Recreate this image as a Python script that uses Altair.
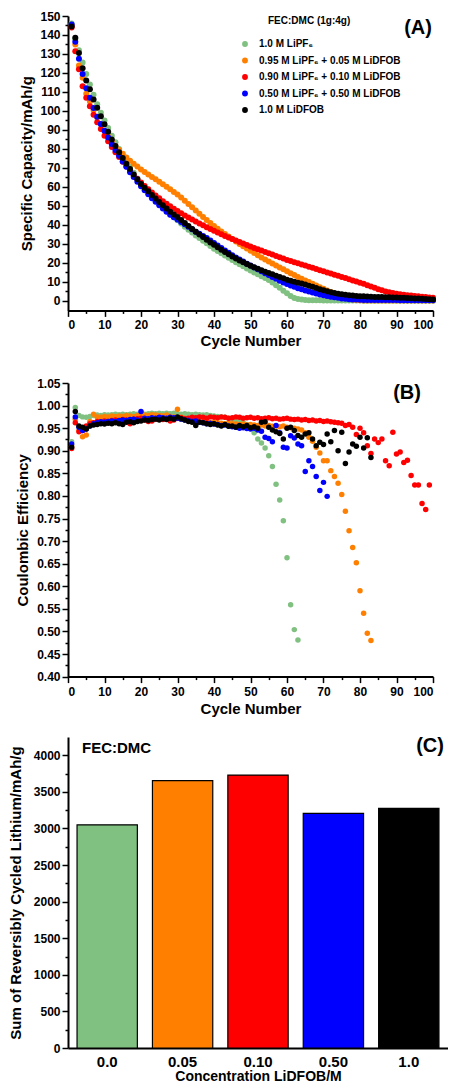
import altair as alt
import pandas as pd

FONT = "Liberation Sans"

series = ["1.0 M LiPF₆", "0.95 M LiPF₆ + 0.05 M LiDFOB", "0.90 M LiPF₆ + 0.10 M LiDFOB",
          "0.50 M LiPF₆ + 0.50 M LiDFOB", "1.0 M LiDFOB"]
colors = ["#80C080", "#FF8000", "#FF0000", "#0000FF", "#000000"]

# ---------------- Panel A: specific capacity (mAh/g) per cycle ----------------
cap_lipf6 = [146, 138, 132, 125.5, 119.5, 114, 108.5, 103.5, 99, 95,
             91, 87, 83.5, 80, 76.5, 73.5, 70.5, 67.5, 64.5, 62,
             59.5, 57, 55, 53, 51, 49, 47.2, 45.5, 44, 42.5,
             40.8, 39.1, 37.5, 36, 34.5, 33.1, 31.7, 30.3, 28.9, 27.5,
             26.3, 25.1, 23.9, 22.7, 21.5, 20.4, 19.3, 18.2, 17.1, 16,
             15, 14, 13, 12, 11, 9.7, 8.3, 6.9, 5.4, 4,
             2.6, 1.5, 1, 0.7, 0.5, 0.4, 0.4, 0.3, 0.3, 0.2,
             0.2, 0.2, 0.2, 0.2, 0.2, 0.2, 0.2, 0.2, 0.2, 0.2,
             0.1, 0.1, 0.1, 0.1, 0.1, 0.1, 0.1, 0.1, 0.1, 0.1,
             0.1, 0.1, 0.1, 0.1, 0.1, 0.1, 0.1, 0.1, 0.1, 0.1]
cap_005 = [145, 135, 124, 117.5, 109, 105, 100.5, 96.5, 93, 89.5,
           86.5, 84, 81.5, 79.5, 77.5, 75.5, 73.8, 72.2, 70.7, 69.2,
           67.9, 66.6, 65.3, 64, 62.7, 61.4, 60.1, 58.8, 57.4, 56,
           54.4, 52.7, 51, 49.3, 47.6, 45.9, 44.2, 42.6, 41, 39.5,
           38, 36.6, 35.2, 33.9, 32.6, 31.3, 30, 28.8, 27.6, 26.4,
           25.2, 24, 22.9, 21.8, 20.7, 19.7, 18.7, 17.6, 16.6, 15.6,
           14.6, 13.6, 12.6, 11.7, 10.8, 9.9, 9, 8.1, 7.2, 6.4,
           5.5, 4.7, 3.9, 3.1, 2.4, 1.7, 1.2, 0.8, 0.5, 0.3,
           0.2, 0.2, 0.2, 0.2, 0.2, 0.2, 0.2, 0.2, 0.2, 0.2,
           0.2, 0.2, 0.2, 0.2, 0.2, 0.2, 0.2, 0.2, 0.2, 0.2]
cap_010 = [144, 131.5, 122, 113, 107, 102.5, 98, 94, 90.5, 87,
           84, 81, 78.3, 75.7, 73.2, 70.8, 68.5, 66.3, 64.2, 62.3,
           60.5, 58.8, 57.1, 55.5, 54, 52.5, 51.1, 49.8, 48.5, 47.3,
           46.1, 45, 43.9, 42.8, 41.8, 40.8, 39.8, 38.8, 37.8, 36.9,
           36, 35.1, 34.2, 33.4, 32.6, 31.8, 31, 30.2, 29.4, 28.6,
           27.9, 27.2, 26.5, 25.8, 25.1, 24.4, 23.7, 23, 22.3, 21.6,
           21, 20.4, 19.8, 19.2, 18.6, 18, 17.4, 16.8, 16.2, 15.6,
           15, 14.4, 13.8, 13.2, 12.6, 12, 11.4, 10.8, 10.2, 9.6,
           9, 8.3, 7.6, 6.9, 6.2, 5.6, 5, 4.5, 4.1, 3.8,
           3.5, 3.2, 3, 2.8, 2.6, 2.4, 2.2, 2, 1.8, 1.6]
cap_050 = [145.5, 136.5, 127.5, 119.5, 112, 107, 101.5, 97, 93.2, 89.6,
           86, 82.6, 79.4, 76.4, 73.4, 70.6, 67.8, 65.2, 62.7, 60.4,
           58.2, 56.1, 54.1, 52.2, 50.4, 48.6, 46.9, 45.3, 44.1, 42.9,
           41.6, 40.3, 39, 37.7, 36.4, 35.3, 34.2, 33.1, 31.8, 30.5,
           29.2, 27.9, 26.6, 25.3, 24.1, 22.9, 21.8, 20.7, 19.6, 18.6,
           17.6, 16.6, 15.6, 14.6, 13.6, 12.6, 11.6, 10.6, 9.7, 8.9,
           8.1, 7.4, 6.7, 6.1, 5.5, 4.9, 4.4, 3.9, 3.4, 3.0,
           2.6, 2.2, 1.9, 1.6, 1.3, 1.1, 0.9, 0.8, 0.7, 0.6,
           0.5, 0.5, 0.5, 0.5, 0.5, 0.5, 0.5, 0.5, 0.5, 0.5,
           0.4, 0.4, 0.4, 0.4, 0.4, 0.4, 0.4, 0.4, 0.4, 0.4]
cap_lidfob = [144.5, 138.5, 130.5, 122.5, 116, 111.5, 106, 101.7, 97.2, 93,
              89, 85, 81.6, 78.3, 75.2, 72.2, 69.4, 66.6, 64, 61.6,
              59.6, 57.7, 55.8, 53.9, 52.1, 50.3, 48.6, 46.9, 45.5, 44.2,
              42.6, 41, 39.4, 37.9, 36.4, 35, 33.6, 32.2, 30.8, 29.5,
              28.2, 26.9, 25.7, 24.5, 23.4, 22.3, 21.3, 20.3, 19.4, 18.5,
              17.7, 16.9, 16.1, 15.4, 14.7, 14, 13.3, 12.6, 11.9, 11.2,
              10.6, 10.1, 9.6, 9.1, 8.6, 8.0, 7.4, 6.8, 6.2, 5.6,
              5.1, 4.6, 4.2, 3.8, 3.5, 3.2, 3.0, 2.8, 2.6, 2.5,
              2.4, 2.3, 2.2, 2.1, 2.0, 2.0, 1.9, 1.9, 1.8, 1.8,
              1.7, 1.6, 1.5, 1.4, 1.3, 1.2, 1.1, 1.0, 0.9, 0.8]

# ---------------- Panel B: coulombic efficiency per cycle ----------------
ce_lipf6 = [0.920, 0.996, 0.978, 0.975, 0.974, 0.976, 0.978, 0.979, 0.978, 0.980,
            0.979, 0.980, 0.981, 0.980, 0.981, 0.980, 0.981, 0.982, 0.981, 0.982,
            0.981, 0.982, 0.983, 0.982, 0.983, 0.982, 0.983, 0.982, 0.983, 0.982,
            0.981, 0.982, 0.981, 0.980, 0.981, 0.980, 0.979, 0.980, 0.978, 0.977,
            0.976, 0.975, 0.974, 0.972, 0.970, 0.968, 0.965, 0.962, 0.958, 0.952,
            0.940, 0.926, 0.917, 0.906, 0.889, 0.865, 0.826, 0.791, 0.745, 0.663,
            0.559, 0.504, 0.481]
ce_005 = [0.910, 0.970, 0.945, 0.931, 0.935, 0.965, 0.981, 0.975, 0.974, 0.976,
          0.975, 0.977, 0.976, 0.977, 0.976, 0.978, 0.977, 0.976, 0.978, 0.977,
          0.979, 0.978, 0.980, 0.979, 0.978, 0.977, 0.979, 0.976, 0.975, 0.992,
          0.974, 0.972, 0.968, 0.966, 0.967, 0.965, 0.964, 0.963, 0.962, 0.963,
          0.962, 0.961, 0.960, 0.961, 0.960, 0.959, 0.958, 0.959, 0.957, 0.958,
          0.957, 0.956, 0.957, 0.955, 0.956, 0.954, 0.955, 0.953, 0.955, 0.952,
          0.951, 0.950, 0.948, 0.946, 0.940, 0.930, 0.921, 0.908, 0.895, 0.878,
          0.878, 0.856, 0.843, 0.828, 0.803, 0.766, 0.723, 0.686, 0.652, 0.590,
          0.540, 0.496, 0.480]
ce_010 = [0.905, 0.962, 0.942, 0.945, 0.955, 0.960, 0.962, 0.965, 0.963, 0.966,
          0.965, 0.967, 0.968, 0.966, 0.969, 0.968, 0.960, 0.970, 0.971, 0.972,
          0.968, 0.965, 0.966, 0.970, 0.972, 0.969, 0.970, 0.966, 0.968, 0.972,
          0.973, 0.971, 0.972, 0.974, 0.973, 0.975, 0.974, 0.972, 0.975, 0.974,
          0.973, 0.975, 0.974, 0.972, 0.973, 0.975, 0.974, 0.972, 0.973, 0.974,
          0.972, 0.973, 0.971, 0.972, 0.973, 0.971, 0.972, 0.970, 0.971, 0.972,
          0.970, 0.969, 0.970, 0.968, 0.969, 0.967, 0.968, 0.966, 0.967, 0.965,
          0.966, 0.964, 0.963, 0.962, 0.961, 0.956, 0.958, 0.952, 0.936, 0.950,
          0.940, 0.911, 0.894, 0.926, 0.918, 0.926, 0.878, 0.867, 0.941, 0.893,
          0.897, 0.874, 0.879, 0.845, 0.824, 0.824, 0.783, 0.770, 0.824]
ce_050 = [0.915, 0.975, 0.952, 0.945, 0.948, 0.955, 0.960, 0.962, 0.964, 0.963,
          0.965, 0.966, 0.965, 0.967, 0.968, 0.967, 0.969, 0.970, 0.968, 0.987,
          0.972, 0.971, 0.973, 0.972, 0.974, 0.973, 0.972, 0.974, 0.973, 0.972,
          0.970, 0.968, 0.967, 0.965, 0.966, 0.963, 0.962, 0.960, 0.961, 0.959,
          0.958, 0.956, 0.957, 0.955, 0.953, 0.952, 0.950, 0.951, 0.949, 0.948,
          0.950, 0.946, 0.943, 0.930, 0.927, 0.920, 0.956, 0.940, 0.908, 0.906,
          0.933, 0.928, 0.915, 0.911, 0.854, 0.878, 0.865, 0.843, 0.812, 0.830,
          0.799]
ce_lidfob = [0.908, 0.987, 0.955, 0.952, 0.948, 0.955, 0.957, 0.958, 0.960, 0.959,
             0.961, 0.960, 0.962, 0.960, 0.958, 0.963, 0.964, 0.962, 0.965, 0.966,
             0.968, 0.967, 0.969, 0.970, 0.968, 0.971, 0.969, 0.972, 0.970, 0.975,
             0.971, 0.968, 0.965, 0.963, 0.956, 0.963, 0.962, 0.960, 0.958, 0.960,
             0.957, 0.955, 0.958, 0.954, 0.955, 0.952, 0.956, 0.953, 0.956, 0.951,
             0.953, 0.950, 0.963, 0.964, 0.952, 0.946, 0.942, 0.938, 0.926, 0.950,
             0.952, 0.945, 0.934, 0.930, 0.937, 0.940, 0.926, 0.911, 0.919, 0.914,
             0.937, 0.920, 0.945, 0.900, 0.941, 0.872, 0.897, 0.915, 0.910, 0.930,
             0.906, 0.929, 0.885]

# ---------------- Panel C: cumulative reversible capacity ----------------
conc_labels = ["0.0", "0.05", "0.10", "0.50", "1.0"]
cum_capacity = [3050, 3655, 3730, 3205, 3275]


def long_df(lists):
    rows = []
    for k, (name, vals) in enumerate(zip(series, lists)):
        for i, v in enumerate(vals):
            rows.append({"series": name, "k": k, "cycle": i + 1, "value": v})
    return pd.DataFrame(rows)


df_a = long_df([cap_lipf6, cap_005, cap_010, cap_050, cap_lidfob])
df_b = long_df([ce_lipf6, ce_005, ce_010, ce_050, ce_lidfob])
df_c = pd.DataFrame({"conc": conc_labels, "cum": cum_capacity})


def tick_axis(title, values, major_test, fmt=None, title_size=15, title_pad=5, label_pad=2):
    kw = dict(title=title, values=values,
              labelExpr="(" + major_test + ") ? datum.label : ''",
              tickSize={"condition": {"test": major_test, "value": 6}, "value": 3},
              titleFontSize=title_size, titlePadding=title_pad, labelPadding=label_pad)
    if fmt:
        kw["format"] = fmt
    return alt.Axis(**kw)


def label_text(txt, x, y, size, align="center"):
    return alt.Chart(pd.DataFrame({"t": [txt]})).mark_text(
        font=FONT, fontWeight="bold", fontSize=size, color="black", align=align, baseline="middle"
    ).encode(x=alt.value(x), y=alt.value(y), text="t:N")


color_scale = alt.Scale(domain=series, range=colors)
x_cycle_vals = list(range(0, 101, 5))

# Panel A
pts_a = alt.Chart(df_a).mark_circle(size=36, opacity=1).encode(
    x=alt.X("cycle:Q", scale=alt.Scale(domain=[0, 100], nice=False),
            axis=tick_axis("Cycle Number", x_cycle_vals, "datum.value % 10 === 0", label_pad=3, title_pad=3)),
    y=alt.Y("value:Q", scale=alt.Scale(domain=[-5, 150], nice=False, zero=False),
            axis=tick_axis("Specific Capacity/mAh/g", list(range(0, 151, 5)), "datum.value % 10 === 0", title_pad=5)),
    color=alt.Color("series:N", scale=color_scale,
                    legend=alt.Legend(title=None, orient="none", legendX=172, legendY=23,
                                      labelFont=FONT, labelFontSize=10, labelFontWeight="bold",
                                      labelColor="black", symbolType="circle", symbolSize=34,
                                      symbolStrokeWidth=0, symbolOpacity=1, rowPadding=6.5,
                                      labelOffset=9, labelLimit=400)),
    order=alt.Order("k:Q"),
)
panel_a = alt.layer(
    pts_a,
    label_text("(A)", 350, 12, 20),
    label_text("FEC:DMC (1g:4g)", 200, 4.5, 10, align="left"),
).properties(width=365, height=294.4)

# Panel B
pts_b = alt.Chart(df_b).mark_circle(size=30, opacity=1).encode(
    x=alt.X("cycle:Q", scale=alt.Scale(domain=[0, 100], nice=False),
            axis=tick_axis("Cycle Number", x_cycle_vals, "datum.value % 10 === 0", label_pad=4, title_pad=4)),
    y=alt.Y("value:Q", scale=alt.Scale(domain=[0.40, 1.05], nice=False, zero=False),
            axis=tick_axis("Coulombic Efficiency", [round(0.40 + 0.025 * i, 3) for i in range(27)],
                           "abs(datum.value * 20 - round(datum.value * 20)) < 0.01", fmt=".2f", title_pad=6)),
    color=alt.Color("series:N", scale=color_scale, legend=None),
    order=alt.Order("k:Q"),
)
panel_b = alt.layer(pts_b, label_text("(B)", 339, 9.5, 20)).properties(width=365, height=293.6)

# Panel C
bars = alt.Chart(df_c).mark_bar(stroke="black", strokeWidth=1.2).encode(
    x=alt.X("conc:N", sort=conc_labels,
            scale=alt.Scale(paddingInner=0.2, paddingOuter=0.12),
            axis=alt.Axis(title="Concentration LiDFOB/M", ticks=False, labelAngle=0, labelFontSize=15,
                          titleFontSize=14, labelPadding=6, titlePadding=0)),
    y=alt.Y("cum:Q", scale=alt.Scale(domain=[0, 4250], nice=False),
            axis=tick_axis("Sum of Reversibly Cycled Lithium/mAh/g", list(range(0, 4001, 250)),
                           "datum.value % 500 === 0", fmt="d", title_size=15, title_pad=10)),
    color=alt.Color("conc:N", scale=alt.Scale(domain=conc_labels, range=colors), legend=None),
)
panel_c = alt.layer(
    bars,
    label_text("(C)", 362, 9, 20),
    label_text("FEC:DMC", 14, 11, 15, align="left"),
).properties(width=380, height=311)

top = alt.vconcat(panel_a, panel_b, spacing=28).resolve_scale(color="independent")
chart = alt.vconcat(top, panel_c, spacing=19).resolve_scale(color="independent").properties(
    padding={"left": 0, "top": 2, "right": 0, "bottom": 0}
).configure_axis(
    domainColor="black", domainWidth=2, tickColor="black", tickWidth=1.5,
    labelColor="black", titleColor="black", labelFont=FONT, titleFont=FONT,
    labelFontWeight="bold", titleFontWeight="bold", labelFontSize=12, grid=False,
).configure_view(stroke=None)

chart.save("out.html", embed_options={"renderer": "svg", "actions": False})
